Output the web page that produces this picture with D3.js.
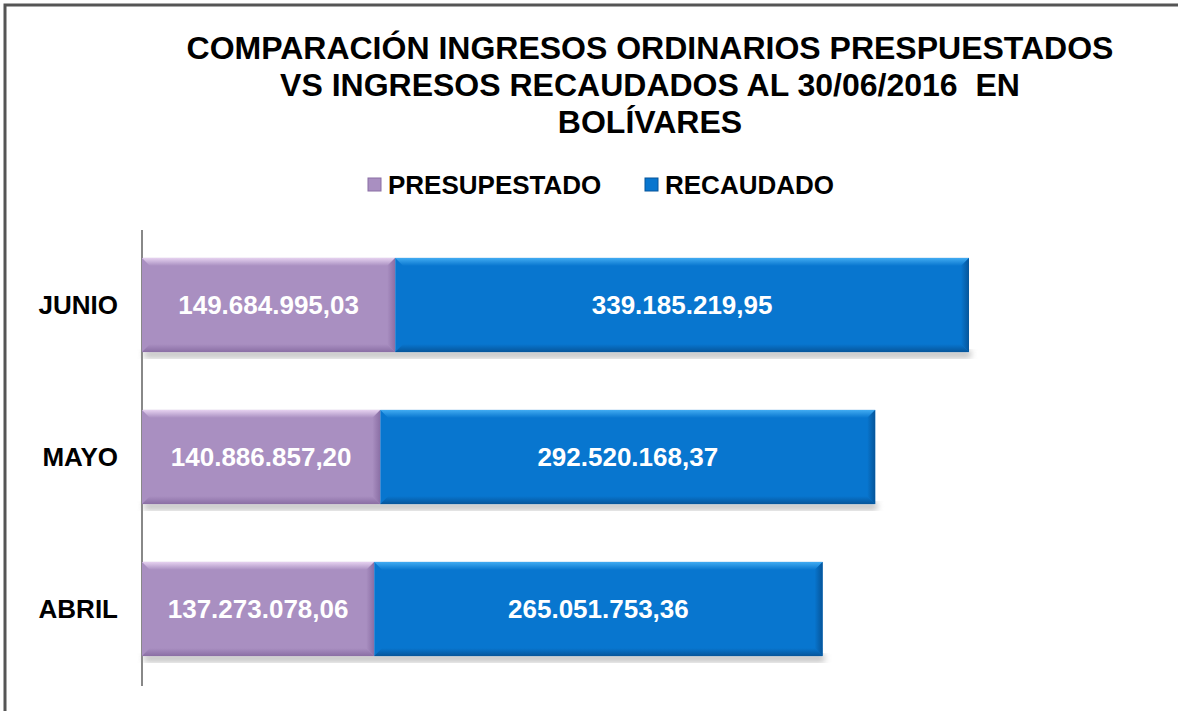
<!DOCTYPE html>
<html lang="es">
<head>
<meta charset="UTF-8">
<title>Comparación ingresos</title>
<script src="https://d3js.org/d3.v7.min.js"></script>
<style>
  body { margin: 0; background: #fff; }
  svg text { font-family: "Liberation Sans", Arial, sans-serif; font-weight: bold; white-space: pre; }
</style>
</head>
<body>
<div id="chart"></div>
<script>
// datos
const categories = ["JUNIO", "MAYO", "ABRIL"];
const presupuestado = [149684995.03, 140886857.20, 137273078.06];
const recaudado = [339185219.95, 292520168.37, 265051753.36];
const presLabels = ["149.684.995,03", "140.886.857,20", "137.273.078,06"];
const recLabels = ["339.185.219,95", "292.520.168,37", "265.051.753,36"];
const seriesNames = ["PRESUPESTADO", "RECAUDADO"];
const titleLines = [
  "COMPARACIÓN INGRESOS ORDINARIOS PRESPUESTADOS",
  "VS INGRESOS RECAUDADOS AL 30/06/2016  EN",
  "BOLÍVARES"
];

const W = 1178, H = 711;
const svg = d3.select("#chart").append("svg").attr("width", W).attr("height", H);

// estilos de las series
const styles = [
  { main: "#a98fc1", light: "#e6d2f0", dark: "#8a6ea4", side: "#9a80b4" },
  { main: "#0876cf", light: "#42acf2", dark: "#06559a", side: "#0a5ea6" }
];

// marco
svg.append("path").attr("d", `M5,${H} L5,5 L${W},5`)
  .attr("fill", "none").attr("stroke", "#555").attr("stroke-width", 3);

// título
svg.append("g").selectAll("text").data(titleLines).enter().append("text")
  .attr("x", 650).attr("y", (d, i) => 59 + i * 37)
  .attr("text-anchor", "middle").attr("font-size", 32).attr("fill", "#000")
  .text(d => d);

// escalas
const x = d3.scaleLinear().domain([0, 600e6]).range([142, 1157]);
const y = d3.scaleBand().domain(categories).range([229, 685]).paddingInner(0.38).paddingOuter(0.19);

// eje vertical
svg.append("line").attr("x1", 142).attr("x2", 142).attr("y1", 230).attr("y2", 686)
  .attr("stroke", "#888").attr("stroke-width", 2);

// etiquetas de categorías
svg.append("g").selectAll("text").data(categories).enter().append("text")
  .attr("x", 118).attr("y", d => y(d) + y.bandwidth() / 2 + 9)
  .attr("text-anchor", "end").attr("font-size", 26).attr("fill", "#000")
  .text(d => d);

// sombra y degradados
const defs = svg.append("defs");
defs.append("filter").attr("id", "blur").append("feGaussianBlur").attr("stdDeviation", 3);
styles.forEach((st, i) => {
  const gt = defs.append("linearGradient").attr("id", "top" + i).attr("x1", 0).attr("x2", 0).attr("y1", 0).attr("y2", 1);
  gt.append("stop").attr("offset", "0%").attr("stop-color", st.light);
  gt.append("stop").attr("offset", "100%").attr("stop-color", st.main);
  const gb = defs.append("linearGradient").attr("id", "bot" + i).attr("x1", 0).attr("x2", 0).attr("y1", 0).attr("y2", 1);
  gb.append("stop").attr("offset", "0%").attr("stop-color", st.main);
  gb.append("stop").attr("offset", "100%").attr("stop-color", st.dark);
  const gr = defs.append("linearGradient").attr("id", "side" + i).attr("x1", 0).attr("x2", 1).attr("y1", 0).attr("y2", 0);
  gr.append("stop").attr("offset", "0%").attr("stop-color", st.main);
  gr.append("stop").attr("offset", "100%").attr("stop-color", st.dark);
});

const rows = categories.map((c, i) => ({
  cat: c,
  segs: [
    { x0: 0, x1: presupuestado[i], s: 0, label: presLabels[i] },
    { x0: presupuestado[i], x1: presupuestado[i] + recaudado[i], s: 1, label: recLabels[i] }
  ]
}));

const bev = 8;
rows.forEach(r => {
  const g = svg.append("g");
  const y0 = y(r.cat), bh = y.bandwidth();
  const xEnd = x(r.segs[1].x1);
  g.append("rect").attr("x", x(0) + 2).attr("y", y0 + bh - 2).attr("width", xEnd - x(0))
    .attr("height", 8).attr("fill", "#999").attr("opacity", 0.6).attr("filter", "url(#blur)");
  r.segs.forEach(sg => {
    const st = styles[sg.s];
    const a = x(sg.x0), b = x(sg.x1);
    g.append("rect").attr("x", a).attr("y", y0).attr("width", b - a).attr("height", bh).attr("fill", st.main);
    g.append("path").attr("d", `M${a},${y0} L${b},${y0} L${b - bev},${y0 + bev} L${a + bev},${y0 + bev} Z`)
      .attr("fill", `url(#top${sg.s})`);
    g.append("path").attr("d", `M${b},${y0} L${b},${y0 + bh} L${b - bev},${y0 + bh - bev} L${b - bev},${y0 + bev} Z`)
      .attr("fill", `url(#side${sg.s})`);
    g.append("path").attr("d", `M${a},${y0 + bh} L${b},${y0 + bh} L${b - bev},${y0 + bh - bev} L${a + bev},${y0 + bh - bev} Z`)
      .attr("fill", `url(#bot${sg.s})`);
    g.append("text").attr("x", (a + b) / 2).attr("y", y0 + bh / 2 + 9)
      .attr("text-anchor", "middle").attr("font-size", 26).attr("fill", "#fff")
      .text(sg.label);
  });
});

// leyenda
const legX = [368, 645];
const leg = svg.append("g").selectAll("g").data(seriesNames).enter().append("g")
  .attr("transform", (d, i) => `translate(${legX[i]},178)`);
leg.append("rect").attr("width", 13).attr("height", 13).attr("fill", (d, i) => styles[i].main)
  .attr("stroke", (d, i) => styles[i].dark).attr("stroke-width", 1);
leg.append("text").attr("x", 20).attr("y", 16).attr("font-size", 26).attr("fill", "#000").text(d => d);
</script>
</body>
</html>
